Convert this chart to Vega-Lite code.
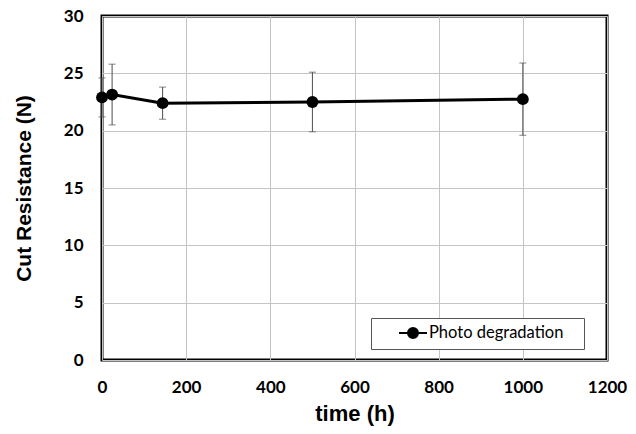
{
  "$schema": "https://vega.github.io/schema/vega-lite/v6.json",
  "width": 505,
  "height": 344,
  "autosize": {"type": "none"},
  "padding": {"left": 102, "top": 16, "right": 29, "bottom": 74},
  "background": "white",
  "data": {"values": [
    {"time": 0, "cut": 22.9, "lo": 21.2, "hi": 24.6, "series": "Photo degradation"},
    {"time": 24, "cut": 23.15, "lo": 20.5, "hi": 25.8, "series": "Photo degradation"},
    {"time": 144, "cut": 22.4, "lo": 21.0, "hi": 23.8, "series": "Photo degradation"},
    {"time": 500, "cut": 22.5, "lo": 19.9, "hi": 25.1, "series": "Photo degradation"},
    {"time": 1000, "cut": 22.75, "lo": 19.6, "hi": 25.9, "series": "Photo degradation"}
  ]},
  "config": {
    "view": {"stroke": "#000000", "strokeWidth": 3},
    "axis": {
      "grid": true,
      "gridColor": "#c4c4c4",
      "gridWidth": 1,
      "ticks": false,
      "domain": false,
      "labelFlush": false,
      "labelFont": "Lato",
      "labelFontWeight": "bold",
      "labelFontSize": 17,
      "labelColor": "#000000",
      "titleFont": "Liberation Sans",
      "titleFontWeight": "bold",
      "titleColor": "#000000"
    }
  },
  "encoding": {
    "x": {
      "field": "time",
      "type": "quantitative",
      "scale": {"domain": [0, 1200], "nice": false},
      "axis": {"values": [0, 200, 400, 600, 800, 1000, 1200], "format": "d", "title": "time (h)", "titleFontSize": 22, "labelPadding": 19, "titlePadding": 8}
    },
    "y": {
      "type": "quantitative",
      "scale": {"domain": [0, 30], "nice": false},
      "axis": {"values": [0, 5, 10, 15, 20, 25, 30], "format": "d", "title": "Cut Resistance (N)", "titleFontSize": 21, "labelPadding": 19, "titlePadding": 29}
    }
  },
  "layer": [
    {
      "mark": {"type": "rule", "color": "#4d4d4d", "strokeWidth": 1},
      "encoding": {"y": {"field": "lo", "type": "quantitative"}, "y2": {"field": "hi"}}
    },
    {
      "mark": {"type": "tick", "color": "#4d4d4d", "thickness": 1, "size": 7, "orient": "horizontal"},
      "encoding": {"y": {"field": "lo", "type": "quantitative"}}
    },
    {
      "mark": {"type": "tick", "color": "#4d4d4d", "thickness": 1, "size": 7, "orient": "horizontal"},
      "encoding": {"y": {"field": "hi", "type": "quantitative"}}
    },
    {
      "mark": {"type": "line", "strokeWidth": 3, "color": "#000000"},
      "encoding": {
        "y": {"field": "cut", "type": "quantitative"},
        "color": {
          "field": "series",
          "type": "nominal",
          "scale": {"range": ["#000000"]},
          "legend": {
            "title": null,
            "orient": "none",
            "legendX": 269,
            "legendY": 302,
            "strokeColor": "#555555",
            "fillColor": "#ffffff",
            "padding": 7,
            "clipHeight": 16,
            "symbolType": "M-1,0H1M-0.36,0A0.36,0.36,0,1,1,0.36,0A0.36,0.36,0,1,1,-0.36,0Z",
            "symbolSize": 784,
            "symbolStrokeWidth": 2,
            "symbolFillColor": "#000000",
            "symbolStrokeColor": "#000000",
            "symbolOffset": 20,
            "labelOffset": 1,
            "labelFont": "Lato",
            "labelFontSize": 16.5,
            "labelColor": "#000000",
            "labelExpr": "datum.label + '\u00a0\u00a0\u00a0\u200b'"
          }
        }
      }
    },
    {
      "mark": {"type": "circle", "size": 140, "opacity": 1, "color": "#000000"},
      "encoding": {"y": {"field": "cut", "type": "quantitative"}}
    }
  ]
}
